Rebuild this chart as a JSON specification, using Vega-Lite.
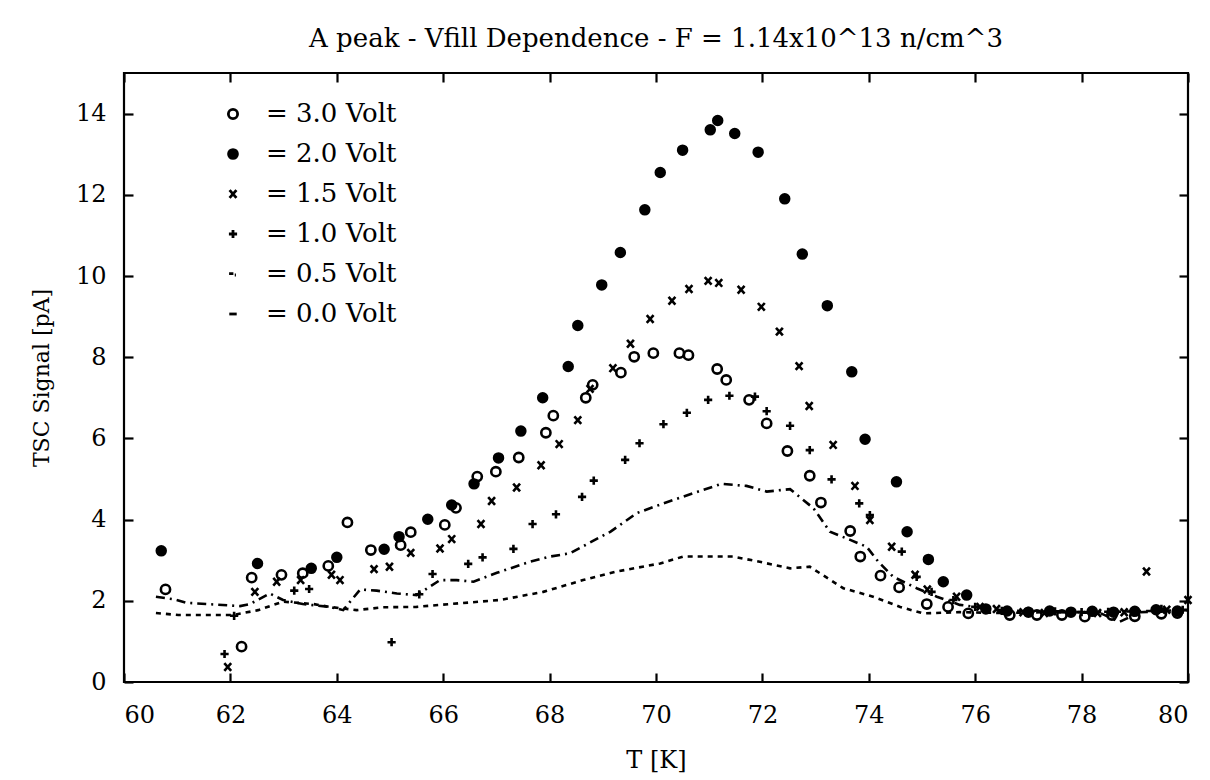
{
  "$schema": "https://vega.github.io/schema/vega-lite/v6.json",
  "width": 1064,
  "height": 609,
  "autosize": {"type": "none"},
  "padding": {"left": 124, "top": 73, "right": 22, "bottom": 98},
  "background": "white",
  "title": {
    "text": "A peak - Vfill Dependence - F = 1.14x10^13 n/cm^3",
    "font": "DejaVu Serif",
    "fontSize": 26,
    "fontWeight": "normal",
    "color": "black",
    "offset": 20
  },
  "config": {
    "font": "DejaVu Serif",
    "view": {"stroke": "black", "strokeWidth": 2.2},
    "axis": {
      "grid": false,
      "domain": false,
      "tickSize": 9,
      "offset": -9,
      "tickWidth": 2.2,
      "tickColor": "black",
      "labelFont": "DejaVu Serif",
      "labelFontSize": 24,
      "labelColor": "black",
      "titleFont": "DejaVu Serif",
      "titleFontSize": 22,
      "titleFontWeight": "normal",
      "titleColor": "black"
    }
  },
  "datasets": {
    "points": [
      {"series": "3.0 Volt", "T": 60.78, "S": 2.28},
      {"series": "3.0 Volt", "T": 62.21, "S": 0.87},
      {"series": "3.0 Volt", "T": 62.40, "S": 2.57},
      {"series": "3.0 Volt", "T": 62.96, "S": 2.64},
      {"series": "3.0 Volt", "T": 63.36, "S": 2.68},
      {"series": "3.0 Volt", "T": 63.84, "S": 2.86},
      {"series": "3.0 Volt", "T": 64.20, "S": 3.93},
      {"series": "3.0 Volt", "T": 64.64, "S": 3.25},
      {"series": "3.0 Volt", "T": 65.20, "S": 3.37},
      {"series": "3.0 Volt", "T": 65.39, "S": 3.69},
      {"series": "3.0 Volt", "T": 66.03, "S": 3.87},
      {"series": "3.0 Volt", "T": 66.24, "S": 4.29},
      {"series": "3.0 Volt", "T": 66.64, "S": 5.06},
      {"series": "3.0 Volt", "T": 66.99, "S": 5.18},
      {"series": "3.0 Volt", "T": 67.42, "S": 5.53},
      {"series": "3.0 Volt", "T": 67.93, "S": 6.14},
      {"series": "3.0 Volt", "T": 68.07, "S": 6.56},
      {"series": "3.0 Volt", "T": 68.68, "S": 7.00},
      {"series": "3.0 Volt", "T": 68.81, "S": 7.32},
      {"series": "3.0 Volt", "T": 69.34, "S": 7.62},
      {"series": "3.0 Volt", "T": 69.59, "S": 8.01},
      {"series": "3.0 Volt", "T": 69.95, "S": 8.10},
      {"series": "3.0 Volt", "T": 70.44, "S": 8.10},
      {"series": "3.0 Volt", "T": 70.61, "S": 8.05},
      {"series": "3.0 Volt", "T": 71.15, "S": 7.71},
      {"series": "3.0 Volt", "T": 71.32, "S": 7.44},
      {"series": "3.0 Volt", "T": 71.75, "S": 6.95},
      {"series": "3.0 Volt", "T": 72.08, "S": 6.37},
      {"series": "3.0 Volt", "T": 72.47, "S": 5.69},
      {"series": "3.0 Volt", "T": 72.89, "S": 5.08},
      {"series": "3.0 Volt", "T": 73.10, "S": 4.42},
      {"series": "3.0 Volt", "T": 73.65, "S": 3.72},
      {"series": "3.0 Volt", "T": 73.84, "S": 3.09},
      {"series": "3.0 Volt", "T": 74.22, "S": 2.62},
      {"series": "3.0 Volt", "T": 74.57, "S": 2.33},
      {"series": "3.0 Volt", "T": 75.09, "S": 1.92},
      {"series": "3.0 Volt", "T": 75.49, "S": 1.85},
      {"series": "3.0 Volt", "T": 75.87, "S": 1.69},
      {"series": "3.0 Volt", "T": 76.65, "S": 1.65},
      {"series": "3.0 Volt", "T": 77.16, "S": 1.65},
      {"series": "3.0 Volt", "T": 77.63, "S": 1.65},
      {"series": "3.0 Volt", "T": 78.06, "S": 1.61},
      {"series": "3.0 Volt", "T": 78.57, "S": 1.65},
      {"series": "3.0 Volt", "T": 79.00, "S": 1.62},
      {"series": "3.0 Volt", "T": 79.50, "S": 1.68},
      {"series": "3.0 Volt", "T": 79.80, "S": 1.70},

      {"series": "2.0 Volt", "T": 60.70, "S": 3.23},
      {"series": "2.0 Volt", "T": 62.51, "S": 2.92},
      {"series": "2.0 Volt", "T": 63.52, "S": 2.80},
      {"series": "2.0 Volt", "T": 64.00, "S": 3.07},
      {"series": "2.0 Volt", "T": 64.89, "S": 3.27},
      {"series": "2.0 Volt", "T": 65.17, "S": 3.58},
      {"series": "2.0 Volt", "T": 65.71, "S": 4.01},
      {"series": "2.0 Volt", "T": 66.16, "S": 4.36},
      {"series": "2.0 Volt", "T": 66.58, "S": 4.88},
      {"series": "2.0 Volt", "T": 67.04, "S": 5.52},
      {"series": "2.0 Volt", "T": 67.46, "S": 6.18},
      {"series": "2.0 Volt", "T": 67.87, "S": 7.00},
      {"series": "2.0 Volt", "T": 68.35, "S": 7.77},
      {"series": "2.0 Volt", "T": 68.53, "S": 8.78},
      {"series": "2.0 Volt", "T": 68.98, "S": 9.78},
      {"series": "2.0 Volt", "T": 69.33, "S": 10.58},
      {"series": "2.0 Volt", "T": 69.79, "S": 11.63},
      {"series": "2.0 Volt", "T": 70.08, "S": 12.55},
      {"series": "2.0 Volt", "T": 70.50, "S": 13.10},
      {"series": "2.0 Volt", "T": 71.02, "S": 13.60},
      {"series": "2.0 Volt", "T": 71.16, "S": 13.83},
      {"series": "2.0 Volt", "T": 71.48, "S": 13.51},
      {"series": "2.0 Volt", "T": 71.92, "S": 13.05},
      {"series": "2.0 Volt", "T": 72.42, "S": 11.90},
      {"series": "2.0 Volt", "T": 72.75, "S": 10.54},
      {"series": "2.0 Volt", "T": 73.22, "S": 9.27},
      {"series": "2.0 Volt", "T": 73.68, "S": 7.64},
      {"series": "2.0 Volt", "T": 73.93, "S": 5.98},
      {"series": "2.0 Volt", "T": 74.52, "S": 4.93},
      {"series": "2.0 Volt", "T": 74.72, "S": 3.70},
      {"series": "2.0 Volt", "T": 75.12, "S": 3.02},
      {"series": "2.0 Volt", "T": 75.40, "S": 2.47},
      {"series": "2.0 Volt", "T": 75.84, "S": 2.14},
      {"series": "2.0 Volt", "T": 76.20, "S": 1.80},
      {"series": "2.0 Volt", "T": 76.60, "S": 1.75},
      {"series": "2.0 Volt", "T": 77.00, "S": 1.72},
      {"series": "2.0 Volt", "T": 77.40, "S": 1.75},
      {"series": "2.0 Volt", "T": 77.80, "S": 1.72},
      {"series": "2.0 Volt", "T": 78.20, "S": 1.74},
      {"series": "2.0 Volt", "T": 78.60, "S": 1.72},
      {"series": "2.0 Volt", "T": 79.00, "S": 1.74},
      {"series": "2.0 Volt", "T": 79.40, "S": 1.78},
      {"series": "2.0 Volt", "T": 79.80, "S": 1.75},

      {"series": "1.5 Volt", "T": 61.95, "S": 0.37},
      {"series": "1.5 Volt", "T": 62.46, "S": 2.22},
      {"series": "1.5 Volt", "T": 62.87, "S": 2.47},
      {"series": "1.5 Volt", "T": 63.32, "S": 2.51},
      {"series": "1.5 Volt", "T": 63.90, "S": 2.64},
      {"series": "1.5 Volt", "T": 64.06, "S": 2.51},
      {"series": "1.5 Volt", "T": 64.70, "S": 2.78},
      {"series": "1.5 Volt", "T": 64.99, "S": 2.84},
      {"series": "1.5 Volt", "T": 65.39, "S": 3.18},
      {"series": "1.5 Volt", "T": 65.94, "S": 3.29},
      {"series": "1.5 Volt", "T": 66.16, "S": 3.52},
      {"series": "1.5 Volt", "T": 66.71, "S": 3.89},
      {"series": "1.5 Volt", "T": 66.91, "S": 4.46},
      {"series": "1.5 Volt", "T": 67.38, "S": 4.79},
      {"series": "1.5 Volt", "T": 67.84, "S": 5.34},
      {"series": "1.5 Volt", "T": 68.18, "S": 5.86},
      {"series": "1.5 Volt", "T": 68.53, "S": 6.45},
      {"series": "1.5 Volt", "T": 68.76, "S": 7.22},
      {"series": "1.5 Volt", "T": 69.19, "S": 7.73},
      {"series": "1.5 Volt", "T": 69.52, "S": 8.33},
      {"series": "1.5 Volt", "T": 69.89, "S": 8.94},
      {"series": "1.5 Volt", "T": 70.30, "S": 9.39},
      {"series": "1.5 Volt", "T": 70.62, "S": 9.68},
      {"series": "1.5 Volt", "T": 70.98, "S": 9.88},
      {"series": "1.5 Volt", "T": 71.18, "S": 9.83},
      {"series": "1.5 Volt", "T": 71.60, "S": 9.66},
      {"series": "1.5 Volt", "T": 71.98, "S": 9.24},
      {"series": "1.5 Volt", "T": 72.32, "S": 8.63},
      {"series": "1.5 Volt", "T": 72.69, "S": 7.78},
      {"series": "1.5 Volt", "T": 72.88, "S": 6.80},
      {"series": "1.5 Volt", "T": 73.33, "S": 5.84},
      {"series": "1.5 Volt", "T": 73.74, "S": 4.83},
      {"series": "1.5 Volt", "T": 74.02, "S": 3.99},
      {"series": "1.5 Volt", "T": 74.43, "S": 3.33},
      {"series": "1.5 Volt", "T": 74.87, "S": 2.64},
      {"series": "1.5 Volt", "T": 75.10, "S": 2.28},
      {"series": "1.5 Volt", "T": 75.65, "S": 2.10},
      {"series": "1.5 Volt", "T": 76.09, "S": 1.85},
      {"series": "1.5 Volt", "T": 76.40, "S": 1.80},
      {"series": "1.5 Volt", "T": 76.90, "S": 1.72},
      {"series": "1.5 Volt", "T": 77.30, "S": 1.70},
      {"series": "1.5 Volt", "T": 77.80, "S": 1.72},
      {"series": "1.5 Volt", "T": 78.30, "S": 1.70},
      {"series": "1.5 Volt", "T": 78.80, "S": 1.72},
      {"series": "1.5 Volt", "T": 79.22, "S": 2.72},
      {"series": "1.5 Volt", "T": 79.60, "S": 1.78},
      {"series": "1.5 Volt", "T": 80.00, "S": 2.02},

      {"series": "1.0 Volt", "T": 61.89, "S": 0.69},
      {"series": "1.0 Volt", "T": 62.07, "S": 1.63},
      {"series": "1.0 Volt", "T": 63.20, "S": 2.25},
      {"series": "1.0 Volt", "T": 63.48, "S": 2.29},
      {"series": "1.0 Volt", "T": 65.03, "S": 0.98},
      {"series": "1.0 Volt", "T": 65.55, "S": 2.16},
      {"series": "1.0 Volt", "T": 65.80, "S": 2.66},
      {"series": "1.0 Volt", "T": 66.47, "S": 2.91},
      {"series": "1.0 Volt", "T": 66.74, "S": 3.07},
      {"series": "1.0 Volt", "T": 67.32, "S": 3.28},
      {"series": "1.0 Volt", "T": 67.68, "S": 3.89},
      {"series": "1.0 Volt", "T": 68.12, "S": 4.13},
      {"series": "1.0 Volt", "T": 68.61, "S": 4.56},
      {"series": "1.0 Volt", "T": 68.83, "S": 4.96},
      {"series": "1.0 Volt", "T": 69.42, "S": 5.47},
      {"series": "1.0 Volt", "T": 69.69, "S": 5.88},
      {"series": "1.0 Volt", "T": 70.14, "S": 6.35},
      {"series": "1.0 Volt", "T": 70.58, "S": 6.63},
      {"series": "1.0 Volt", "T": 70.98, "S": 6.95},
      {"series": "1.0 Volt", "T": 71.38, "S": 7.05},
      {"series": "1.0 Volt", "T": 71.86, "S": 7.03},
      {"series": "1.0 Volt", "T": 72.08, "S": 6.67},
      {"series": "1.0 Volt", "T": 72.52, "S": 6.31},
      {"series": "1.0 Volt", "T": 72.89, "S": 5.71},
      {"series": "1.0 Volt", "T": 73.30, "S": 4.99},
      {"series": "1.0 Volt", "T": 73.82, "S": 4.40},
      {"series": "1.0 Volt", "T": 74.02, "S": 4.11},
      {"series": "1.0 Volt", "T": 74.62, "S": 3.21},
      {"series": "1.0 Volt", "T": 74.90, "S": 2.59},
      {"series": "1.0 Volt", "T": 75.18, "S": 2.22},
      {"series": "1.0 Volt", "T": 75.59, "S": 2.02},
      {"series": "1.0 Volt", "T": 76.00, "S": 1.85},
      {"series": "1.0 Volt", "T": 76.50, "S": 1.75},
      {"series": "1.0 Volt", "T": 77.00, "S": 1.75},
      {"series": "1.0 Volt", "T": 77.50, "S": 1.74},
      {"series": "1.0 Volt", "T": 78.00, "S": 1.72},
      {"series": "1.0 Volt", "T": 78.50, "S": 1.73},
      {"series": "1.0 Volt", "T": 79.00, "S": 1.75},
      {"series": "1.0 Volt", "T": 79.50, "S": 1.80},
      {"series": "1.0 Volt", "T": 79.90, "S": 1.78}
    ],
    "lines": [
      {"series": "0.5 Volt", "T": 60.60, "S": 2.10},
      {"series": "0.5 Volt", "T": 60.93, "S": 2.04},
      {"series": "0.5 Volt", "T": 61.18, "S": 1.95},
      {"series": "0.5 Volt", "T": 62.18, "S": 1.87},
      {"series": "0.5 Volt", "T": 62.37, "S": 1.92},
      {"series": "0.5 Volt", "T": 62.74, "S": 2.18},
      {"series": "0.5 Volt", "T": 62.99, "S": 2.02},
      {"series": "0.5 Volt", "T": 63.36, "S": 1.92},
      {"series": "0.5 Volt", "T": 63.87, "S": 1.85},
      {"series": "0.5 Volt", "T": 64.12, "S": 1.77},
      {"series": "0.5 Volt", "T": 64.44, "S": 2.28},
      {"series": "0.5 Volt", "T": 64.75, "S": 2.25},
      {"series": "0.5 Volt", "T": 65.13, "S": 2.18},
      {"series": "0.5 Volt", "T": 65.50, "S": 2.14},
      {"series": "0.5 Volt", "T": 65.94, "S": 2.51},
      {"series": "0.5 Volt", "T": 66.25, "S": 2.51},
      {"series": "0.5 Volt", "T": 66.57, "S": 2.47},
      {"series": "0.5 Volt", "T": 67.01, "S": 2.69},
      {"series": "0.5 Volt", "T": 67.63, "S": 2.96},
      {"series": "0.5 Volt", "T": 68.01, "S": 3.09},
      {"series": "0.5 Volt", "T": 68.38, "S": 3.17},
      {"series": "0.5 Volt", "T": 69.14, "S": 3.70},
      {"series": "0.5 Volt", "T": 69.64, "S": 4.16},
      {"series": "0.5 Volt", "T": 70.14, "S": 4.40},
      {"series": "0.5 Volt", "T": 70.70, "S": 4.65},
      {"series": "0.5 Volt", "T": 71.23, "S": 4.88},
      {"series": "0.5 Volt", "T": 71.70, "S": 4.83},
      {"series": "0.5 Volt", "T": 72.08, "S": 4.69},
      {"series": "0.5 Volt", "T": 72.52, "S": 4.75},
      {"series": "0.5 Volt", "T": 72.96, "S": 4.28},
      {"series": "0.5 Volt", "T": 73.27, "S": 3.70},
      {"series": "0.5 Volt", "T": 73.65, "S": 3.50},
      {"series": "0.5 Volt", "T": 73.96, "S": 3.33},
      {"series": "0.5 Volt", "T": 74.18, "S": 2.96},
      {"series": "0.5 Volt", "T": 74.46, "S": 2.59},
      {"series": "0.5 Volt", "T": 74.90, "S": 2.31},
      {"series": "0.5 Volt", "T": 75.28, "S": 2.10},
      {"series": "0.5 Volt", "T": 75.71, "S": 1.90},
      {"series": "0.5 Volt", "T": 76.47, "S": 1.77},
      {"series": "0.5 Volt", "T": 77.41, "S": 1.72},
      {"series": "0.5 Volt", "T": 78.35, "S": 1.70},
      {"series": "0.5 Volt", "T": 78.71, "S": 1.48},
      {"series": "0.5 Volt", "T": 79.10, "S": 1.72},
      {"series": "0.5 Volt", "T": 80.00, "S": 1.77},

      {"series": "0.0 Volt", "T": 60.60, "S": 1.70},
      {"series": "0.0 Volt", "T": 61.02, "S": 1.65},
      {"series": "0.0 Volt", "T": 61.62, "S": 1.65},
      {"series": "0.0 Volt", "T": 62.05, "S": 1.65},
      {"series": "0.0 Volt", "T": 62.52, "S": 1.77},
      {"series": "0.0 Volt", "T": 62.99, "S": 1.98},
      {"series": "0.0 Volt", "T": 63.56, "S": 1.92},
      {"series": "0.0 Volt", "T": 63.87, "S": 1.85},
      {"series": "0.0 Volt", "T": 64.37, "S": 1.77},
      {"series": "0.0 Volt", "T": 64.87, "S": 1.84},
      {"series": "0.0 Volt", "T": 65.50, "S": 1.85},
      {"series": "0.0 Volt", "T": 66.13, "S": 1.92},
      {"series": "0.0 Volt", "T": 66.69, "S": 1.98},
      {"series": "0.0 Volt", "T": 67.07, "S": 2.02},
      {"series": "0.0 Volt", "T": 67.88, "S": 2.22},
      {"series": "0.0 Volt", "T": 68.63, "S": 2.51},
      {"series": "0.0 Volt", "T": 69.26, "S": 2.72},
      {"series": "0.0 Volt", "T": 70.08, "S": 2.92},
      {"series": "0.0 Volt", "T": 70.51, "S": 3.09},
      {"series": "0.0 Volt", "T": 71.45, "S": 3.09},
      {"series": "0.0 Volt", "T": 71.95, "S": 2.96},
      {"series": "0.0 Volt", "T": 72.52, "S": 2.80},
      {"series": "0.0 Volt", "T": 72.89, "S": 2.84},
      {"series": "0.0 Volt", "T": 73.52, "S": 2.31},
      {"series": "0.0 Volt", "T": 74.08, "S": 2.10},
      {"series": "0.0 Volt", "T": 74.59, "S": 1.85},
      {"series": "0.0 Volt", "T": 75.02, "S": 1.69},
      {"series": "0.0 Volt", "T": 75.71, "S": 1.72},
      {"series": "0.0 Volt", "T": 76.47, "S": 1.70},
      {"series": "0.0 Volt", "T": 77.41, "S": 1.72},
      {"series": "0.0 Volt", "T": 78.35, "S": 1.72},
      {"series": "0.0 Volt", "T": 79.29, "S": 1.75},
      {"series": "0.0 Volt", "T": 80.00, "S": 1.77}
    ]
  },
  "layer": [
    {
      "data": {"name": "lines"},
      "mark": {"type": "line", "color": "black", "strokeWidth": 2.6, "interpolate": "linear"},
      "encoding": {
        "x": {
          "field": "T", "type": "quantitative",
          "scale": {"domain": [60, 80], "nice": false, "zero": false},
          "axis": {"orient": "bottom", "values": [60, 62, 64, 66, 68, 70, 72, 74, 76, 78, 80], "title": "T [K]", "titleFontSize": 24, "labelPadding": 21, "titlePadding": 21}
        },
        "y": {
          "field": "S", "type": "quantitative",
          "scale": {"domain": [0, 15], "nice": false, "zero": true},
          "axis": {"orient": "left", "values": [0, 2, 4, 6, 8, 10, 12, 14], "title": "TSC Signal [pA]", "labelPadding": 18, "titlePadding": 22}
        },
        "detail": {"field": "series", "type": "nominal"},
        "strokeDash": {
          "field": "series", "type": "nominal",
          "scale": {"domain": ["0.5 Volt", "0.0 Volt"], "range": [[9, 5, 2, 5], [5, 5]]},
          "legend": null
        }
      }
    },
    {
      "data": {"name": "points"},
      "mark": {"type": "point", "filled": false, "strokeWidth": 2.6, "opacity": 1},
      "encoding": {
        "x": {
          "field": "T", "type": "quantitative",
          "axis": {"orient": "top", "values": [60, 62, 64, 66, 68, 70, 72, 74, 76, 78, 80], "labels": false, "title": null}
        },
        "y": {
          "field": "S", "type": "quantitative",
          "axis": {"orient": "right", "values": [0, 2, 4, 6, 8, 10, 12, 14], "labels": false, "title": null}
        },
        "shape": {
          "field": "series", "type": "nominal",
          "scale": {
            "domain": ["3.0 Volt", "2.0 Volt", "1.5 Volt", "1.0 Volt", "0.5 Volt", "0.0 Volt"],
            "range": ["circle", "circle", "M-0.8,-0.9L0.8,0.9M-0.8,0.9L0.8,-0.9", "M-1,0H1M0,-1V1", "M-1,-0.1H0.1M0.45,0.25H0.75", "M-1,0H1"]
          },
          "legend": {"orient": "none", "legendX": 96, "legendY": 28, "padding": 0, "title": null, "labelFont": "DejaVu Serif", "labelFontSize": 26, "labelColor": "black", "labelOffset": 20, "rowPadding": 14, "symbolStrokeWidth": 2.8, "labelExpr": "'= ' + datum.label"}
        },
        "fill": {
          "field": "series", "type": "nominal",
          "scale": {
            "domain": ["3.0 Volt", "2.0 Volt", "1.5 Volt", "1.0 Volt", "0.5 Volt", "0.0 Volt"],
            "range": ["transparent", "black", "transparent", "transparent", "transparent", "transparent"]
          },
          "legend": {"orient": "none", "legendX": 96, "legendY": 28, "padding": 0, "title": null, "labelFont": "DejaVu Serif", "labelFontSize": 26, "labelColor": "black", "labelOffset": 20, "rowPadding": 14, "symbolStrokeWidth": 2.8, "labelExpr": "'= ' + datum.label"}
        },
        "stroke": {
          "field": "series", "type": "nominal",
          "scale": {
            "domain": ["3.0 Volt", "2.0 Volt", "1.5 Volt", "1.0 Volt", "0.5 Volt", "0.0 Volt"],
            "range": ["black", "black", "black", "black", "black", "black"]
          },
          "legend": {"orient": "none", "legendX": 96, "legendY": 28, "padding": 0, "title": null, "labelFont": "DejaVu Serif", "labelFontSize": 26, "labelColor": "black", "labelOffset": 20, "rowPadding": 14, "symbolStrokeWidth": 2.8, "labelExpr": "'= ' + datum.label"}
        },
        "size": {
          "field": "series", "type": "nominal",
          "scale": {
            "domain": ["3.0 Volt", "2.0 Volt", "1.5 Volt", "1.0 Volt", "0.5 Volt", "0.0 Volt"],
            "range": [85, 55, 75, 110, 400, 400]
          },
          "legend": {"orient": "none", "legendX": 96, "legendY": 28, "padding": 0, "title": null, "labelFont": "DejaVu Serif", "labelFontSize": 26, "labelColor": "black", "labelOffset": 20, "rowPadding": 14, "symbolStrokeWidth": 2.8, "labelExpr": "'= ' + datum.label"}
        }
      }
    }
  ],
  "resolve": {"axis": {"x": "independent", "y": "independent"}}
}
